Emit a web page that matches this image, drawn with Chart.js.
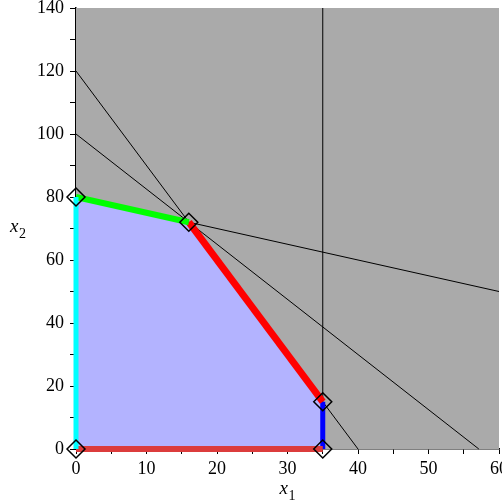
<!DOCTYPE html>
<html>
<head>
<meta charset="utf-8">
<script src="https://cdn.jsdelivr.net/npm/chart.js@4"></script>
<style>
  html, body { margin: 0; padding: 0; background: #fff; }
  #wrap { width: 502px; height: 503px; }
</style>
</head>
<body>
<div id="wrap"><canvas id="lp"></canvas></div>
<script>
// feasible region corners (x1, x2)
const cornerX = [0, 0, 16, 35, 35];
const cornerY = [0, 80, 72, 15, 0];

// upper boundary of feasible region, filled down to x2 = 0
const regionX = [0, 16, 35, 35];
const regionY = [80, 72, 15, 0];

// constraint lines, each given by two end points
const lineAX = [0, 40],    lineAY = [120, 0];
const lineBX = [0, 57.14], lineBY = [100, 0];
const lineCX = [0, 60],    lineCY = [80, 50];
const lineDX = [35, 35],   lineDY = [0, 140];

// colored edges of the region
const edgeGreenX = [0, 16],  edgeGreenY = [80, 72];
const edgeRedX = [16, 35],   edgeRedY = [72, 15];
const edgeBlueX = [35, 35],  edgeBlueY = [15, 0];
const edgeBottomX = [0, 35], edgeBottomY = [0, 0];
const edgeLeftX = [0, 0],    edgeLeftY = [0, 80];

const xTicks = [0, 10, 20, 30, 40, 50, 60];
const yTicks = [0, 20, 40, 60, 80, 100, 120, 140];

const serif = '"Liberation Serif", "Times New Roman", serif';

function pts(xs, ys) {
    return xs.map((x, i) => ({ x: x, y: ys[i] }));
}

function seg(xs, ys, color, width, order) {
    return {
        data: pts(xs, ys),
        showLine: true,
        borderColor: color,
        borderWidth: width,
        pointRadius: 0,
        fill: false,
        clip: false,
        order: order
    };
}

// gray background for the infeasible area
const bgPlugin = {
    id: 'bg',
    beforeDatasetsDraw(chart) {
        const a = chart.chartArea;
        const ctx = chart.ctx;
        ctx.save();
        ctx.fillStyle = '#aaaaaa';
        ctx.fillRect(a.left, a.top, a.right - a.left, a.bottom - a.top);
        ctx.restore();
    }
};

// axis titles with subscripts
const titlePlugin = {
    id: 'titles',
    afterDraw(chart) {
        const ctx = chart.ctx;
        const a = chart.chartArea;
        ctx.save();
        ctx.fillStyle = '#000';
        ctx.textBaseline = 'alphabetic';
        ctx.textAlign = 'left';
        const xMid = (a.left + a.right) / 2;
        ctx.font = 'italic 19px ' + serif;
        ctx.fillText('x', xMid - 8, 494);
        ctx.font = '14px ' + serif;
        ctx.fillText('1', xMid + 1, 500);
        const yMid = (a.top + a.bottom) / 2;
        ctx.font = 'italic 19px ' + serif;
        ctx.fillText('x', 10, yMid + 3);
        ctx.font = '14px ' + serif;
        ctx.fillText('2', 19, yMid + 9);
        ctx.restore();
    }
};

const ctx = document.getElementById('lp').getContext('2d');
new Chart(ctx, {
    type: 'scatter',
    data: {
        datasets: [
            {
                data: pts(regionX, regionY),
                showLine: true,
                borderWidth: 0,
                borderColor: 'rgba(0,0,0,0)',
                backgroundColor: '#b3b3ff',
                pointRadius: 0,
                fill: 'origin',
                order: 10
            },
            seg(lineAX, lineAY, '#000', 1, 9),
            seg(lineBX, lineBY, '#000', 1, 9),
            seg(lineCX, lineCY, '#000', 1, 9),
            seg(lineDX, lineDY, '#000', 1, 9),
            seg(edgeLeftX, edgeLeftY, '#00ffff', 5, 5),
            seg(edgeBottomX, edgeBottomY, '#dc3c3c', 6, 5),
            seg(edgeGreenX, edgeGreenY, '#00ff00', 6, 5),
            seg(edgeRedX, edgeRedY, '#ff0000', 7, 5),
            seg(edgeBlueX, edgeBlueY, '#0000ff', 5, 5),
            {
                data: pts(cornerX, cornerY),
                showLine: false,
                pointStyle: 'rectRot',
                pointRadius: 9,
                pointBorderColor: '#000',
                pointBackgroundColor: 'rgba(0,0,0,0)',
                pointBorderWidth: 1.5,
                clip: false,
                order: 1
            }
        ]
    },
    options: {
        responsive: true,
        maintainAspectRatio: false,
        animation: false,
        layout: { autoPadding: false, padding: { top: 8, right: 3, left: 0, bottom: 0 } },
        plugins: {
            legend: { display: false },
            tooltip: { enabled: false }
        },
        scales: {
            x: {
                type: 'linear',
                min: 0,
                max: 60,
                z: 1,
                afterFit(s) { s.height = 54; s.paddingLeft = 0; s.paddingRight = 0; },
                afterBuildTicks(s) {
                    const t = [];
                    for (let v = 0; v <= 60; v += 5) t.push({ value: v });
                    s.ticks = t;
                },
                border: { color: '#000', width: 1.5 },
                grid: { drawOnChartArea: false, color: '#000', tickLength: 5 },
                ticks: {
                    autoSkip: false,
                    maxRotation: 0,
                    padding: 4,
                    color: '#000',
                    font: { family: serif, size: 18 },
                    callback: v => xTicks.includes(v) ? String(v) : ''
                }
            },
            y: {
                type: 'linear',
                min: 0,
                max: 140,
                z: 1,
                afterFit(s) { s.width = 76; s.paddingTop = 0; s.paddingBottom = 0; },
                afterBuildTicks(s) {
                    const t = [];
                    for (let v = 0; v <= 140; v += 10) t.push({ value: v });
                    s.ticks = t;
                },
                border: { color: '#000', width: 1.5 },
                grid: { drawOnChartArea: false, color: '#000', tickLength: 6 },
                ticks: {
                    autoSkip: false,
                    padding: 6,
                    color: '#000',
                    font: { family: serif, size: 18 },
                    callback: v => yTicks.includes(v) ? String(v) : ''
                }
            }
        }
    },
    plugins: [bgPlugin, titlePlugin]
});
</script>
</body>
</html>
